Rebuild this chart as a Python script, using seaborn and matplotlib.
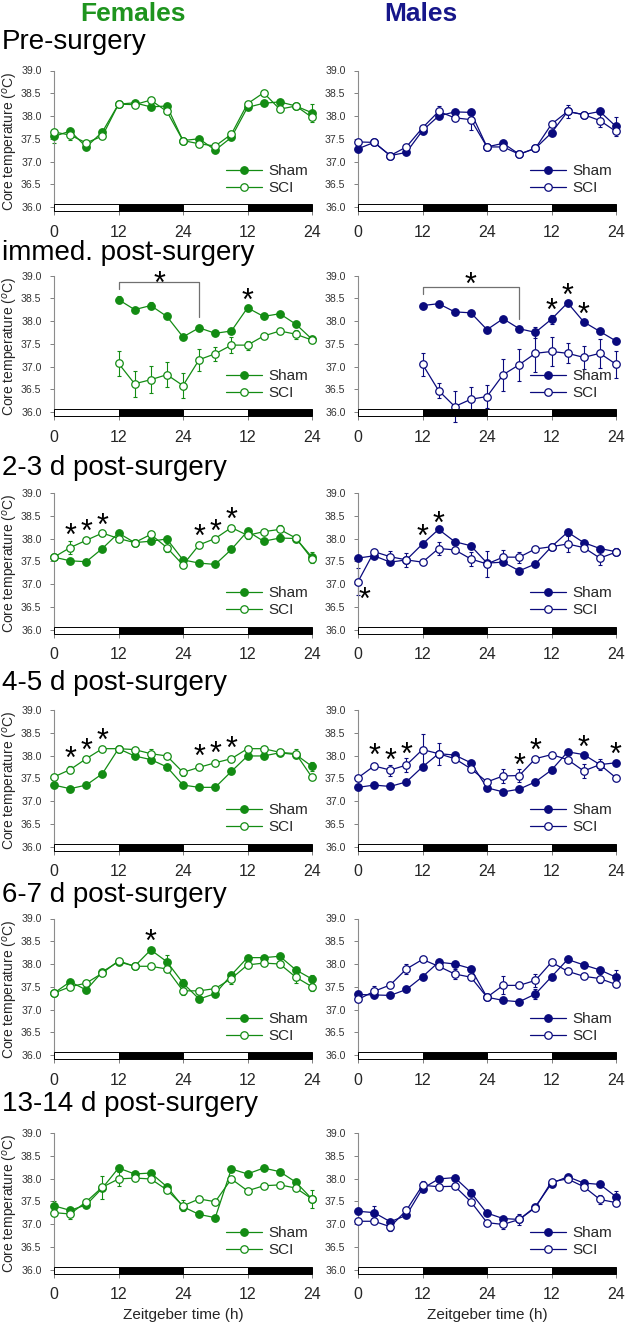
import matplotlib
matplotlib.use("Agg")
import matplotlib.pyplot as plt
from matplotlib.patches import Rectangle
import seaborn as sns
import pandas as pd

# ---- data (core temperature, degC) ----
hours = [0, 3, 6, 9, 12, 15, 18, 21, 24, 27, 30, 33, 36, 39, 42, 45, 48]
post_hours = [12, 15, 18, 21, 24, 27, 30, 33, 36, 39, 42, 45, 48]
xtick_pos = [0, 12, 24, 36, 48]
xtick_labels = ["0", "12", "24", "12", "24"]
panel_titles = ["Pre-surgery", "immed. post-surgery", "2-3 d post-surgery",
                "4-5 d post-surgery", "6-7 d post-surgery", "13-14 d post-surgery"]

# females
f_pre_sham = [37.55, 37.67, 37.32, 37.65, 38.26, 38.29, 38.20, 38.22, 37.46, 37.50, 37.25, 37.53, 38.19, 38.28, 38.31, 38.22, 38.07]
f_pre_sci = [37.65, 37.58, 37.41, 37.56, 38.26, 38.25, 38.35, 38.10, 37.46, 37.39, 37.34, 37.60, 38.27, 38.51, 38.15, 38.22, 37.97]
f_imm_sham = [38.47, 38.25, 38.34, 38.10, 37.65, 37.85, 37.73, 37.78, 38.29, 38.10, 38.16, 37.93, 37.60]
f_imm_sci = [37.07, 36.62, 36.71, 36.82, 36.58, 37.15, 37.28, 37.47, 37.47, 37.67, 37.78, 37.71, 37.58]
f_d23_sham = [37.59, 37.51, 37.49, 37.78, 38.12, 37.91, 37.94, 37.99, 37.53, 37.46, 37.43, 37.76, 38.16, 37.94, 38.01, 38.00, 37.59]
f_d23_sci = [37.59, 37.80, 37.96, 38.12, 38.00, 37.91, 38.09, 37.80, 37.42, 37.86, 38.00, 38.24, 38.07, 38.15, 38.20, 38.01, 37.55]
f_d45_sham = [37.35, 37.27, 37.35, 37.60, 38.15, 37.99, 37.91, 37.75, 37.35, 37.30, 37.30, 37.65, 37.99, 37.99, 38.06, 38.02, 37.76]
f_d45_sci = [37.53, 37.69, 37.93, 38.15, 38.15, 38.13, 38.04, 37.99, 37.63, 37.74, 37.84, 37.93, 38.15, 38.15, 38.07, 38.04, 37.52]
f_d67_sham = [37.36, 37.61, 37.43, 37.83, 38.05, 37.95, 38.31, 38.05, 37.58, 37.23, 37.35, 37.76, 38.14, 38.14, 38.17, 37.87, 37.67]
f_d67_sci = [37.36, 37.50, 37.58, 37.80, 38.07, 37.95, 37.95, 37.89, 37.41, 37.41, 37.46, 37.68, 37.98, 38.02, 38.00, 37.71, 37.50]
f_d1314_sham = [37.40, 37.30, 37.42, 37.79, 38.23, 38.10, 38.12, 37.82, 37.38, 37.21, 37.14, 38.21, 38.10, 38.23, 38.15, 37.92, 37.55]
f_d1314_sci = [37.25, 37.22, 37.49, 37.81, 37.99, 38.01, 37.99, 37.75, 37.40, 37.55, 37.49, 37.99, 37.73, 37.84, 37.86, 37.79, 37.55]

# males
m_pre_sham = [37.28, 37.42, 37.13, 37.20, 37.68, 38.00, 38.09, 38.08, 37.32, 37.40, 37.16, 37.29, 37.63, 38.10, 38.03, 38.10, 37.77]
m_pre_sci = [37.43, 37.42, 37.13, 37.32, 37.74, 38.10, 37.96, 37.92, 37.32, 37.32, 37.16, 37.29, 37.82, 38.10, 38.03, 37.90, 37.66]
m_imm_sham = [38.34, 38.38, 38.20, 38.18, 37.81, 38.05, 37.83, 37.75, 38.04, 38.40, 37.98, 37.77, 37.56]
m_imm_sci = [37.05, 36.47, 36.12, 36.28, 36.34, 36.82, 37.04, 37.29, 37.33, 37.29, 37.20, 37.29, 37.05]
m_d23_sham = [37.57, 37.62, 37.48, 37.53, 37.88, 38.20, 37.93, 37.84, 37.46, 37.48, 37.29, 37.44, 37.82, 38.14, 37.91, 37.78, 37.71]
m_d23_sci = [37.05, 37.71, 37.60, 37.53, 37.48, 37.78, 37.75, 37.55, 37.44, 37.59, 37.59, 37.77, 37.82, 37.88, 37.80, 37.57, 37.70]
m_d45_sham = [37.30, 37.35, 37.32, 37.42, 37.75, 38.04, 38.01, 37.84, 37.29, 37.20, 37.26, 37.42, 37.68, 38.08, 38.02, 37.80, 37.84]
m_d45_sci = [37.51, 37.77, 37.68, 37.79, 38.13, 38.04, 37.93, 37.71, 37.42, 37.55, 37.56, 37.93, 38.02, 37.91, 37.66, 37.80, 37.51]
m_d67_sham = [37.33, 37.32, 37.31, 37.44, 37.72, 38.04, 38.00, 37.90, 37.27, 37.20, 37.17, 37.34, 37.72, 38.10, 37.98, 37.87, 37.71]
m_d67_sci = [37.22, 37.40, 37.54, 37.89, 38.10, 37.95, 37.78, 37.71, 37.27, 37.53, 37.53, 37.64, 38.04, 37.84, 37.73, 37.68, 37.55]
m_d1314_sham = [37.28, 37.25, 37.05, 37.19, 37.78, 37.99, 38.02, 37.69, 37.24, 37.12, 37.10, 37.38, 37.89, 38.04, 37.90, 37.87, 37.60]
m_d1314_sci = [37.06, 37.06, 36.94, 37.30, 37.85, 37.82, 37.83, 37.49, 37.03, 36.99, 37.10, 37.36, 37.93, 37.99, 37.82, 37.54, 37.47]

# SEM where visible: {hour: sem}
f_err_sham = [{0: 0.15, 48: 0.2}, {12: 0.08, 18: 0.08, 36: 0.06, 45: 0.06}, {48: 0.12},
              {48: 0.1}, {21: 0.15, 24: 0.1, 48: 0.08}, {0: 0.1}]
f_err_sci = [{3: 0.1}, {12: 0.28, 15: 0.28, 18: 0.3, 21: 0.28, 24: 0.28, 27: 0.24, 30: 0.15,
                        33: 0.18, 36: 0.1, 45: 0.1},
             {3: 0.15, 21: 0.1, 36: 0.08, 42: 0.1}, {3: 0.08, 18: 0.1, 24: 0.08, 45: 0.1},
             {24: 0.1, 33: 0.12, 45: 0.12, 48: 0.1}, {3: 0.12, 9: 0.25, 12: 0.15, 24: 0.12, 48: 0.2}]
m_err_sham = [{48: 0.2}, {33: 0.12, 36: 0.1}, {48: 0.08}, {}, {33: 0.12, 48: 0.15},
              {3: 0.15, 21: 0.08, 48: 0.12}]
m_err_sci = [{15: 0.12, 21: 0.22, 39: 0.15, 45: 0.15},
             {12: 0.25, 15: 0.17, 18: 0.35, 21: 0.28, 24: 0.25, 27: 0.35, 30: 0.35, 33: 0.4,
              36: 0.32, 39: 0.22, 42: 0.25, 45: 0.32, 48: 0.3},
             {0: 0.3, 6: 0.12, 9: 0.15, 15: 0.15, 21: 0.15, 24: 0.28, 27: 0.15, 30: 0.12,
              39: 0.17, 45: 0.15},
             {6: 0.12, 9: 0.15, 12: 0.35, 15: 0.24, 27: 0.15, 30: 0.15, 42: 0.15, 45: 0.12},
             {3: 0.12, 9: 0.1, 18: 0.12, 27: 0.2, 33: 0.15, 45: 0.1},
             {6: 0.1, 12: 0.1, 27: 0.1, 30: 0.12, 45: 0.1}]

# significance asterisks (hour, height)
f_stars = [[], [(19.7, 38.98), (36, 38.6)],
           [(3, 38.22), (6, 38.31), (9, 38.44), (27, 38.21), (30, 38.31), (33, 38.58)],
           [(3, 38.1), (6, 38.28), (9, 38.5), (27, 38.13), (30, 38.21), (33, 38.32)],
           [(18, 38.66)], []]
m_stars = [[], [(21, 38.96), (36, 38.38), (39, 38.71), (42, 38.31)],
           [(12, 38.2), (15, 38.49), (1.3, 36.82)],
           [(3, 38.15), (6, 38.04), (9, 38.18), (30, 37.93), (33, 38.26), (42, 38.34), (48, 38.18)],
           [], []]
# bracket: x0, x1, top, left end, right end
f_bracket = (12, 27, 38.85, 38.7, 38.08)
m_bracket = (12, 30, 38.75, 38.6, 38.05)

females = [(f_pre_sham, f_pre_sci), (f_imm_sham, f_imm_sci), (f_d23_sham, f_d23_sci),
           (f_d45_sham, f_d45_sci), (f_d67_sham, f_d67_sci), (f_d1314_sham, f_d1314_sci)]
males = [(m_pre_sham, m_pre_sci), (m_imm_sham, m_imm_sci), (m_d23_sham, m_d23_sci),
         (m_d45_sham, m_d45_sci), (m_d67_sham, m_d67_sci), (m_d1314_sham, m_d1314_sci)]

GREEN = "#138c13"
NAVY = "#0a0a7d"

sns.set_theme(style="ticks")
plt.rcParams["font.family"] = ["Liberation Sans", "DejaVu Sans"]

W, H = 625, 1326
fig = plt.figure(figsize=(W / 100, H / 100), dpi=100)

tops = [70.5, 275.5, 493, 710, 918.5, 1133]
ax_h = 140.6
YMIN = 35.91


def draw_panel(ax, sham, sci, err_sham, err_sci, stars, color, bracket):
    x = hours if len(sham) == len(hours) else post_hours
    for vals, err, face, lab in [(sham, err_sham, color, "Sham"), (sci, err_sci, "white", "SCI")]:
        if err:
            eh = sorted(err)
            ev = [vals[x.index(h)] for h in eh]
            ax.errorbar(eh, ev, yerr=[err[h] for h in eh], fmt="none", ecolor=color,
                        elinewidth=0.8, capsize=1.6, capthick=0.8, zorder=1.5, clip_on=False)
        df = pd.DataFrame({"h": x, "temp": vals})
        sns.lineplot(data=df, x="h", y="temp", ax=ax, color=color, lw=0.9, marker="o",
                     markersize=5.4, markerfacecolor=face, markeredgecolor=color,
                     markeredgewidth=0.9, label=lab, clip_on=False, zorder=3)
    # light / dark bar
    for i, (a, b) in enumerate([(0, 12), (12, 24), (24, 36), (36, 48)]):
        ax.add_patch(Rectangle((a, YMIN), b - a, 0.155, facecolor="white" if i % 2 == 0 else "black",
                               edgecolor="black", lw=0.7, clip_on=False, zorder=4))
    for h, y in stars:
        ax.annotate("*", xy=(h, y), xytext=(0, -12), textcoords="offset points",
                    ha="center", va="baseline", fontsize=22, color="black")
    if bracket is not None:
        x0, x1, top, yl, yr = bracket
        ax.plot([x0, x0, x1, x1], [yl, top, top, yr], color="#707070", lw=0.9)
    ax.set_xlim(0, 48)
    ax.set_ylim(YMIN, 39.0)
    ax.set_yticks([36.0, 36.5, 37.0, 37.5, 38.0, 38.5, 39.0])
    ax.set_yticklabels([f"{v:.1f}" for v in [36.0, 36.5, 37.0, 37.5, 38.0, 38.5, 39.0]])
    ax.set_xticks(xtick_pos)
    ax.set_xticklabels(xtick_labels)
    ax.tick_params(axis="y", labelsize=7.6, length=3, width=0.7, color="#808080",
                   labelcolor="#333333", pad=6)
    ax.tick_params(axis="x", labelsize=11.5, length=3, width=0.7, color="#808080", pad=7)
    sns.despine(ax=ax, top=True, right=True, bottom=True)
    ax.spines["left"].set_color("#8c8c8c")
    ax.spines["left"].set_linewidth(0.8)
    ax.set_xlabel("")
    ax.set_ylabel("")
    ax.legend(loc="lower right", bbox_to_anchor=(0.985, 0.115), frameon=False, fontsize=11,
              handlelength=2.4, handletextpad=0.4, labelspacing=0.2, borderaxespad=0,
              borderpad=0)


for row in range(6):
    y_top = tops[row]
    for col, (data, errs_s, errs_c, stars, color, bracket) in enumerate([
            (females, f_err_sham, f_err_sci, f_stars, GREEN, f_bracket),
            (males, m_err_sham, m_err_sci, m_stars, NAVY, m_bracket)]):
        left = 54 if col == 0 else 358
        ax = fig.add_axes([left / W, 1 - (y_top + ax_h) / H, 258 / W, ax_h / H])
        draw_panel(ax, data[row][0], data[row][1], errs_s[row], errs_c[row], stars[row],
                   color, bracket if row == 1 else None)
        if col == 0:
            ax.set_ylabel("Core temperature ($^o$C)", fontsize=10)
            ax.yaxis.set_label_coords(-0.13, 0.5)
        if row == 5:
            ax.set_xlabel("Zeitgeber time (h)", fontsize=11, labelpad=4)

title_base = [49, 260, 475, 690, 902, 1111]
for t, yb in zip(panel_titles, title_base):
    fig.text(2 / W, 1 - yb / H, t, fontsize=20, va="baseline", ha="left", color="black")

fig.text(133 / W, 1 - 21 / H, "Females", fontsize=19, fontweight="bold", color="#1e941e",
         ha="center", va="baseline")
fig.text(421 / W, 1 - 21 / H, "Males", fontsize=19, fontweight="bold", color="#16168a",
         ha="center", va="baseline")

fig.savefig("out.png", dpi=100)
